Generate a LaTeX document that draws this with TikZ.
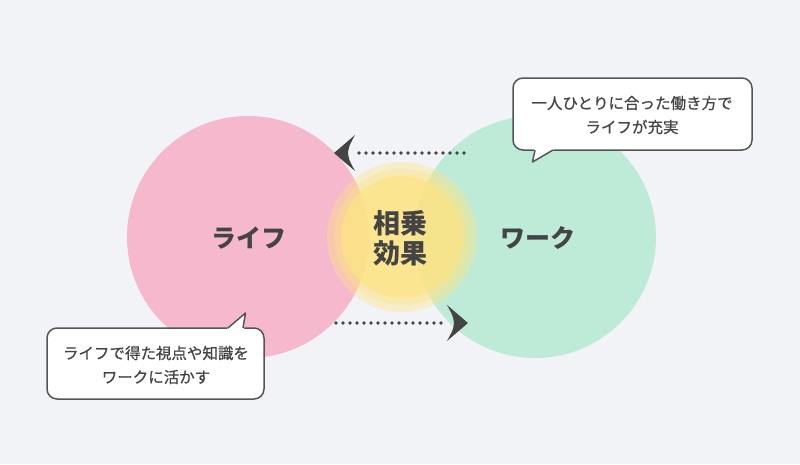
\documentclass[tikz,border=0pt]{standalone}
\usepackage{fontspec}
\setmainfont{Noto Sans CJK JP}
\newfontfamily\jpmed{Noto Sans CJK JP}[FakeBold=0.7]
\definecolor{bg}{HTML}{F2F3F7}
\definecolor{pinkc}{HTML}{F6B8CD}
\definecolor{greenc}{HTML}{BEEBD7}
\definecolor{yel}{HTML}{FDE485}
\definecolor{ink}{HTML}{444444}
\definecolor{edge}{HTML}{555555}
\tikzset{
  bigcircle/.style={circle, minimum size=242pt, inner sep=0pt},
  bigtext/.style={font=\bfseries\fontsize{25}{30}\selectfont, text=ink},
  dotline/.style={ink, line width=3.8pt, line cap=round, dash pattern=on 0pt off 7pt},
  headshape/.style={fill=ink},
  bubble/.style={draw=edge, line width=1.5pt, fill=white, rounded corners=10pt},
  bubbletext/.style={font=\jpmed\fontsize{15.5}{24}\selectfont, text=ink, align=center},
}
\begin{document}
\begin{tikzpicture}[x=1pt,y=-1pt]
\fill[bg] (0,0) rectangle (800,464);
\useasboundingbox (0,0) rectangle (800,464);
% circles
\node[bigcircle, fill=pinkc] (life) at (248,237) {};
\node[bigcircle, fill=greenc] (work) at (535,237) {};
% glow
\fill[yel, opacity=0.4] (402,237) circle (75);
\fill[yel, opacity=0.35] (402,237) circle (68);
\fill[yel, opacity=0.75] (402,237) circle (61);
\node[font=\bfseries\fontsize{27}{32}\selectfont, text=ink, align=center] (syn) at (400,238) {相乗\\[-2pt]効果};
\node[bigtext] (lifet) at (249,238) {ライフ};
\node[bigtext] (workt) at (538,238) {ワーク};
% arrows
\coordinate (a1s) at (464,153);
\coordinate (a1e) at (358,153);
\draw[dotline] (a1s) -- (a1e);
\fill[headshape] (334,153) -- (355,135) .. controls (349,146) .. (348,153) .. controls (349,160) .. (355,171) -- cycle;
\coordinate (a2s) at (336,323);
\coordinate (a2e) at (442,323);
\draw[dotline] (a2s) -- (a2e);
\fill[headshape] (468,323) -- (447,305) .. controls (453,316) .. (454,323) .. controls (453,330) .. (447,341) -- cycle;
% callout 1
\draw[bubble] (513,78) rectangle (752,150);
\fill[white] (534,148) -- (533,162) -- (556,148) -- cycle;
\draw[edge, line width=1.5pt, line join=round] (535,150) -- (532.5,162) -- (553,150);
\node[bubbletext] (c1) at (632,115) {一人ひとりに合った働き方で\\ライフが充実};
% callout 2
\draw[bubble] (47,328) rectangle (264,399);
\fill[white] (226,330) -- (245,313) -- (244,330) -- cycle;
\draw[edge, line width=1.5pt, line join=round] (228,328) -- (245.5,313) -- (243,328);
\node[bubbletext] (c2) at (156,365) {ライフで得た視点や知識を\\ワークに活かす};
\end{tikzpicture}
\end{document}
